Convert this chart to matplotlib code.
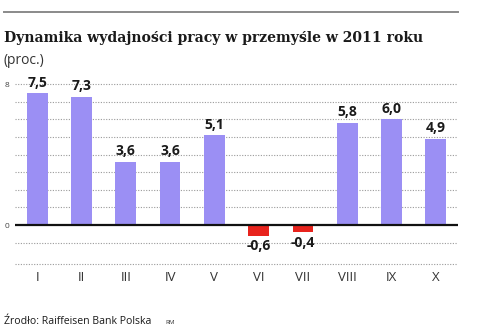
import matplotlib
matplotlib.use('Agg')
import matplotlib.pyplot as plt

months = ['I', 'II', 'III', 'IV', 'V', 'VI', 'VII', 'VIII', 'IX', 'X']
values = [7.5, 7.3, 3.6, 3.6, 5.1, -0.6, -0.4, 5.8, 6.0, 4.9]
grid_levels = [-2.2, -1, 1, 2, 3, 4, 5, 6, 7, 8]
tick_values = [0, 8]

POS = '#9b8ff4'
NEG = '#e8231d'
SANS = ['Open Sans', 'DejaVu Sans']

fig = plt.figure(figsize=(4.78, 3.32), dpi=100)
ax = fig.add_axes([15 / 478, 1 - 265.5 / 332, 443 / 478, (265.5 - 78.9) / 332])

ymin, ymax = -2.3, 8.3
ax.set_xlim(-0.5, 9.5)
ax.set_ylim(ymin, ymax)

for g in grid_levels:
    ax.axhline(g, color='#9a9a9a', lw=0.8, ls=(0, (1, 1.4)), zorder=1)
ax.axhline(0, color='#111111', lw=1.6, zorder=3)

xs = list(range(len(months)))
colors = [POS if v >= 0 else NEG for v in values]
ax.bar(xs, values, width=0.47, color=colors, zorder=2)

for x, v in zip(xs, values):
    txt = f'{v:.1f}'.replace('.', ',')
    if v >= 0:
        ax.annotate(txt, (x, v), xytext=(0, 2.5), textcoords='offset points',
                    ha='center', va='bottom', fontsize=10, fontweight='bold',
                    color='#1a1a1a', family=SANS)
    else:
        ax.annotate(txt, (x, v), xytext=(0, -2.5), textcoords='offset points',
                    ha='center', va='top', fontsize=10, fontweight='bold',
                    color='#1a1a1a', family=SANS)

ax.set_xticks(xs, months)
ax.set_yticks(tick_values, [str(t) for t in tick_values])
ax.tick_params(axis='x', length=0, pad=4, labelsize=9.5, labelcolor='#333333')
ax.tick_params(axis='y', length=0, pad=4, labelsize=6, labelcolor='#444444')
for lab in ax.get_xticklabels() + ax.get_yticklabels():
    lab.set_family(SANS)
for s in ax.spines.values():
    s.set_visible(False)

# header rule, title and unit
fig.add_artist(plt.Line2D([4 / 478, 458 / 478], [1 - 12 / 332, 1 - 12 / 332],
                          color='#8a8a8a', lw=1.4))
fig.text(4 / 478, 1 - 38 / 332, 'Dynamika wydajności pracy w przemyśle w 2011 roku',
         fontsize=10.1, fontweight='bold', family=['DejaVu Serif'],
         color='#1a1a1a', va='center')
fig.text(4 / 478, 1 - 61 / 332, '(proc.)', fontsize=10, family=SANS,
         color='#333333', va='center')

# source line
fig.text(4 / 478, 1 - 321 / 332, 'Źrodło: Raiffeisen Bank Polska', fontsize=7.6,
         family=SANS, color='#1a1a1a', va='center')
fig.text(165 / 478, 1 - 322 / 332, 'RM', fontsize=4.5, family=SANS,
         color='#333333', va='center')

fig.savefig('out.png', dpi=100, facecolor='white')
